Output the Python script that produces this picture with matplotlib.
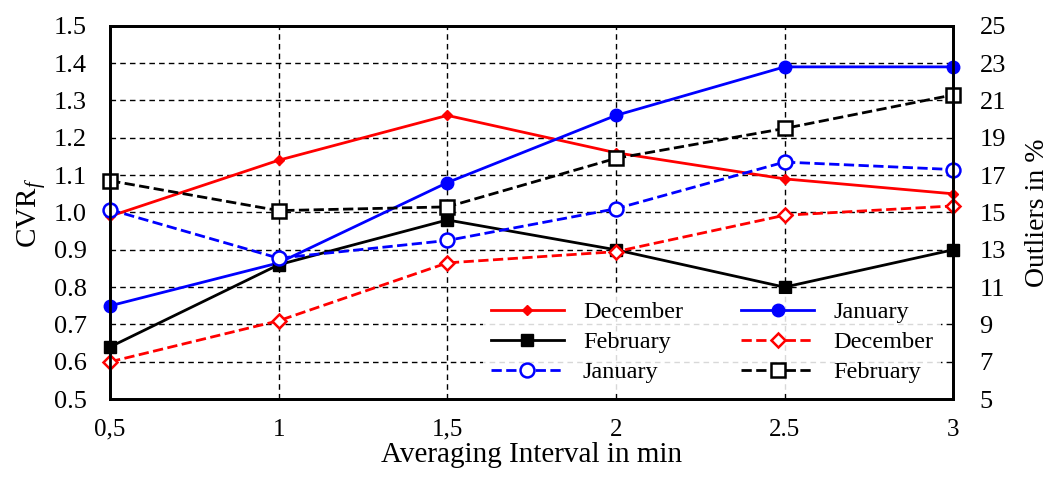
import matplotlib
matplotlib.use("Agg")
import matplotlib.pyplot as plt

plt.rcParams['font.family'] = ['Liberation Serif', 'DejaVu Serif']
plt.rcParams['mathtext.fontset'] = 'custom'
plt.rcParams['mathtext.rm'] = 'Liberation Serif'
plt.rcParams['mathtext.it'] = 'Liberation Serif:italic'

# averaging interval in min
intervals = [0.5, 1, 1.5, 2, 2.5, 3]
x_ticklabels = ["0,5", "1", "1,5", "2", "2.5", "3"]

# CVR_f (left axis)
cvr_dec = [0.99, 1.14, 1.26, 1.16, 1.09, 1.05]
cvr_jan = [0.75, 0.865, 1.08, 1.26, 1.39, 1.39]
cvr_feb = [0.64, 0.86, 0.98, 0.90, 0.80, 0.90]

# outliers in % (right axis)
out_dec = [7.0, 9.2, 12.3, 12.9, 14.85, 15.35]
out_jan = [15.15, 12.55, 13.5, 15.2, 17.7, 17.3]
out_feb = [16.7, 15.1, 15.3, 17.9, 19.5, 21.3]

fig, ax = plt.subplots(figsize=(10.59, 4.78), dpi=100)
fig.subplots_adjust(left=0.104, right=0.900, bottom=0.165, top=0.946)
ax2 = ax.twinx()

# solid lines: CVR_f
l1, = ax.plot(intervals, cvr_dec, color='red', lw=2, marker='D', ms=5,
              label='December', clip_on=False, zorder=5)
l2, = ax.plot(intervals, cvr_jan, color='blue', lw=2, marker='o', ms=9,
              label='January', clip_on=False, zorder=5)
l3, = ax.plot(intervals, cvr_feb, color='black', lw=2, marker='s', ms=9,
              label='February', clip_on=False, zorder=5)

# dashed lines: outliers
l4, = ax2.plot(intervals, out_dec, color='red', lw=2, ls='--', marker='D', ms=7,
               mfc='white', mew=1.8, label='December', clip_on=False)
l5, = ax2.plot(intervals, out_jan, color='blue', lw=2, ls='--', marker='o', ms=10,
               mfc='white', mew=1.8, label='January', clip_on=False)
l6, = ax2.plot(intervals, out_feb, color='black', lw=2, ls='--', marker='s', ms=10,
               mfc='white', mew=1.8, label='February', clip_on=False)

ax.set_xlim(0.5, 3)
ax.set_ylim(0.5, 1.5)
ax2.set_ylim(5, 25)
ax.set_xticks(intervals)
ax.set_xticklabels(x_ticklabels)
ax.set_yticks([0.5 + 0.1 * i for i in range(11)])
ax.set_yticklabels([f"{0.5 + 0.1 * i:.1f}" for i in range(11)])
ax2.set_yticks(range(5, 26, 2))

ax.grid(True, ls='--', color='black', lw=1, dashes=(4, 3))
ax.set_axisbelow(True)
ax.tick_params(axis='x', length=0, labelsize=18, pad=14)
ax.tick_params(axis='y', length=0, labelsize=19, pad=17)
ax2.tick_params(length=0, labelsize=19, pad=19)
for a in (ax, ax2):
    for s in a.spines.values():
        s.set_linewidth(2)

ax.set_xlabel("Averaging Interval in min", fontsize=21, labelpad=1)
ax.set_ylabel("CVR$_{\\mathit{f}}$", fontsize=21, labelpad=4)
ax2.set_ylabel("Outliers in %", fontsize=20, labelpad=14)

ax2.set_zorder(ax.get_zorder() + 1)
ax2.patch.set_visible(False)

leg = ax2.legend(handles=[l1, l3, l5, l2, l4, l6], ncol=2, loc='lower right',
                 bbox_to_anchor=(1.0, -0.01), fontsize=17.5, frameon=True,
                 framealpha=0.85, edgecolor='none', handlelength=3.0,
                 columnspacing=2.4, labelspacing=0.33, borderpad=0.3)
leg.get_frame().set_linewidth(0)

fig.savefig("out.png", dpi=100)
